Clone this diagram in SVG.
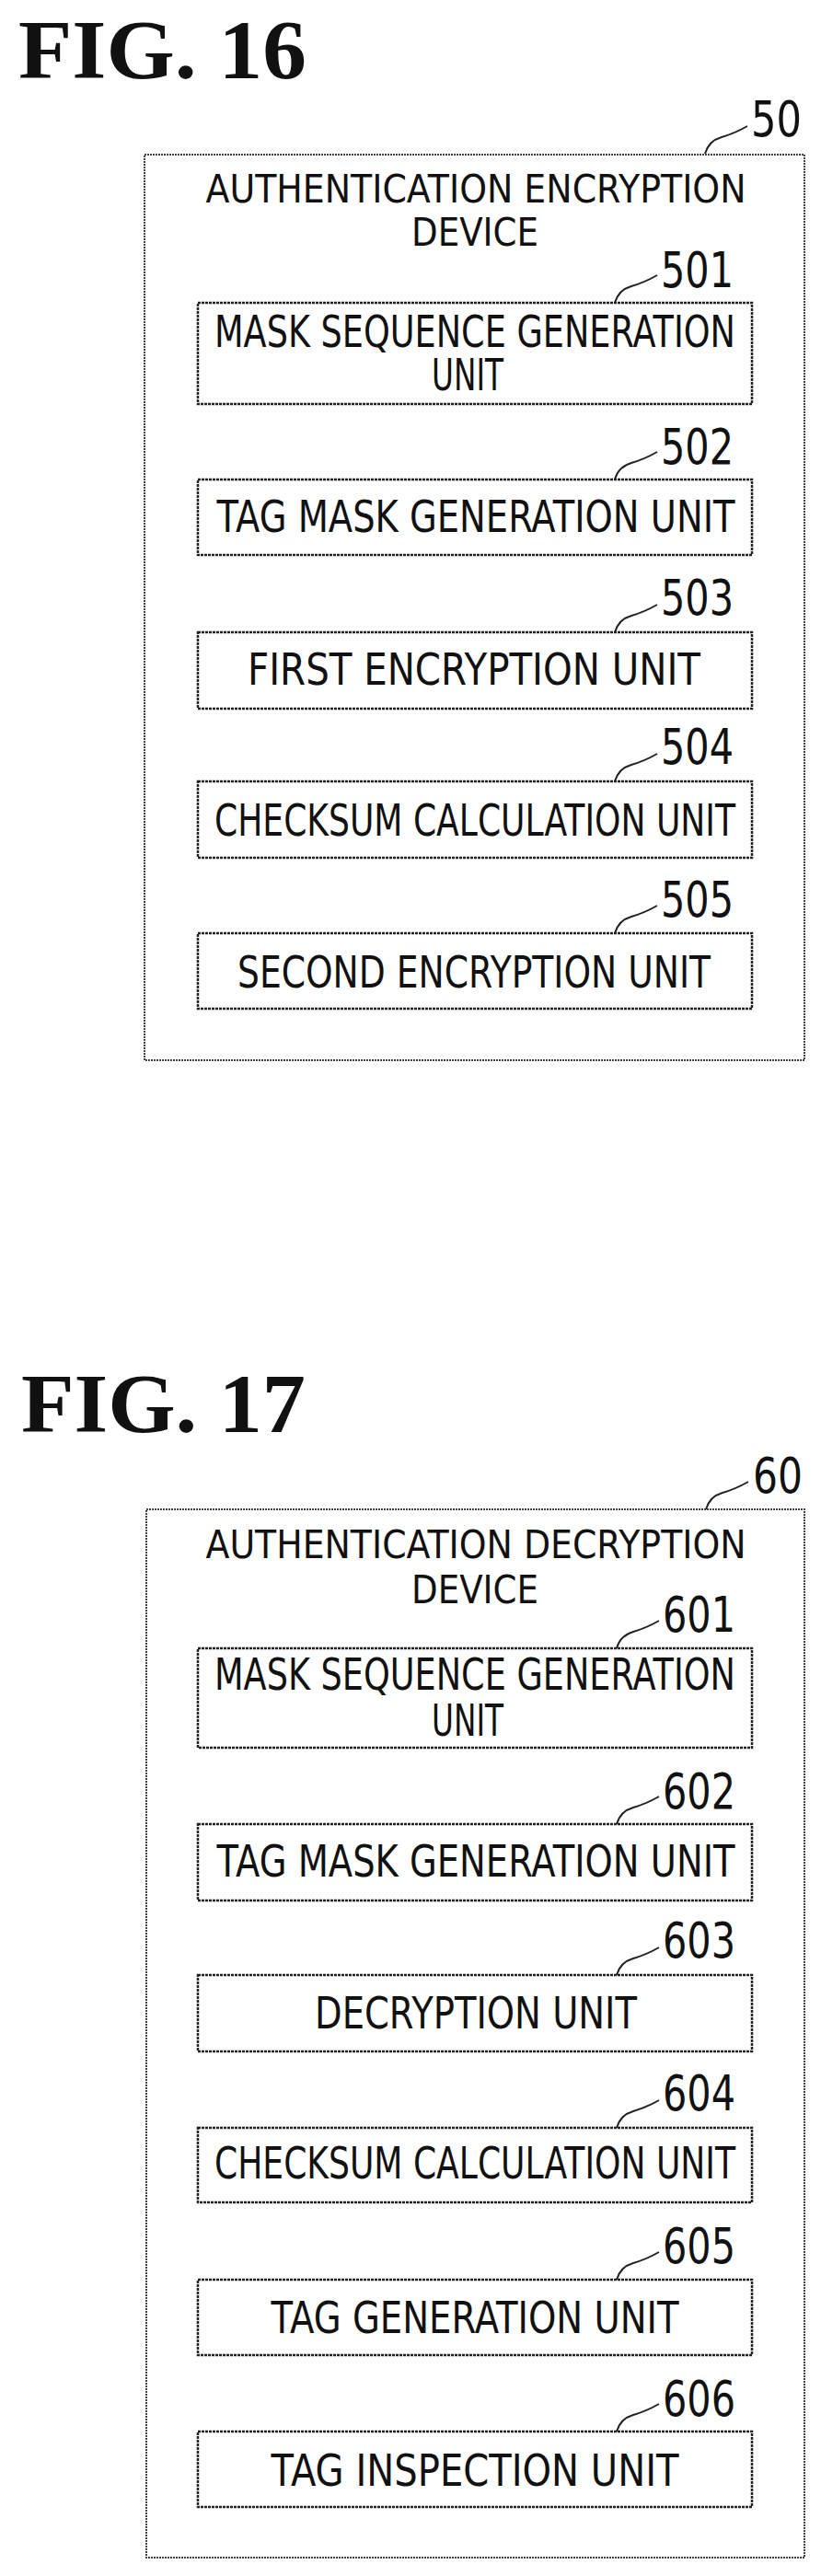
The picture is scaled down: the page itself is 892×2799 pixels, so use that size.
<svg xmlns="http://www.w3.org/2000/svg" width="892" height="2799" viewBox="0 0 892 2799">
<style>
.fig{font-family:"Liberation Serif",serif;font-size:90px;font-weight:bold;fill:#111}
.lb{font-family:"DejaVu Sans",sans-serif;font-size:54px;fill:#111}
.t{font-family:"DejaVu Sans",sans-serif;font-size:48px;fill:#111;text-anchor:middle}
.h{font-family:"DejaVu Sans",sans-serif;font-size:42px;fill:#111;text-anchor:middle}
.box{fill:none;stroke:#222;stroke-width:2.5;stroke-dasharray:3 1}
.obox{fill:none;stroke:#444;stroke-width:2;stroke-dasharray:2 1}
.ld{fill:none;stroke:#222;stroke-width:2}
</style>
<rect width="892" height="2799" fill="#fff"/>
<text class="fig" x="20" y="85" textLength="313" lengthAdjust="spacingAndGlyphs">FIG.  16</text>
<g id="n50"><rect class="obox" x="157" y="168" width="717" height="984"/>
<text class="h" x="517" y="220" textLength="587" lengthAdjust="spacingAndGlyphs">AUTHENTICATION ENCRYPTION</text>
<text class="h" x="516" y="267" textLength="138" lengthAdjust="spacingAndGlyphs">DEVICE</text>
<text class="lb" x="816" y="148" textLength="55" lengthAdjust="spacingAndGlyphs">50</text></g>
<g id="n501"><rect class="box" x="215" y="329" width="602" height="110"/>
<text class="t" x="516" y="377" textLength="566" lengthAdjust="spacingAndGlyphs">MASK SEQUENCE GENERATION</text>
<text class="t" x="508" y="424" textLength="78" lengthAdjust="spacingAndGlyphs">UNIT</text>
<text class="lb" x="718" y="312" textLength="79" lengthAdjust="spacingAndGlyphs">501</text></g>
<g id="n502"><rect class="box" x="215" y="521" width="602" height="82"/>
<text class="t" x="517" y="578" textLength="563" lengthAdjust="spacingAndGlyphs">TAG MASK GENERATION UNIT</text>
<text class="lb" x="718" y="504" textLength="79" lengthAdjust="spacingAndGlyphs">502</text></g>
<g id="n503"><rect class="box" x="215" y="687" width="602" height="83"/>
<text class="t" x="515" y="744" textLength="492" lengthAdjust="spacingAndGlyphs">FIRST ENCRYPTION UNIT</text>
<text class="lb" x="718" y="668" textLength="79" lengthAdjust="spacingAndGlyphs">503</text></g>
<g id="n504"><rect class="box" x="215" y="849" width="602" height="83"/>
<text class="t" x="516" y="908" textLength="566" lengthAdjust="spacingAndGlyphs">CHECKSUM CALCULATION UNIT</text>
<text class="lb" x="718" y="830" textLength="79" lengthAdjust="spacingAndGlyphs">504</text></g>
<g id="n505"><rect class="box" x="215" y="1014" width="602" height="82"/>
<text class="t" x="515" y="1073" textLength="514" lengthAdjust="spacingAndGlyphs">SECOND ENCRYPTION UNIT</text>
<text class="lb" x="718" y="996" textLength="79" lengthAdjust="spacingAndGlyphs">505</text></g>

<text class="fig" x="23" y="1556" textLength="309" lengthAdjust="spacingAndGlyphs">FIG.  17</text>
<g id="n60"><rect class="obox" x="159" y="1640" width="715" height="1139"/>
<text class="h" x="517" y="1693" textLength="587" lengthAdjust="spacingAndGlyphs">AUTHENTICATION DECRYPTION</text>
<text class="h" x="516" y="1742" textLength="138" lengthAdjust="spacingAndGlyphs">DEVICE</text>
<text class="lb" x="818" y="1622" textLength="54" lengthAdjust="spacingAndGlyphs">60</text></g>
<g id="n601"><rect class="box" x="215" y="1791" width="602" height="108"/>
<text class="t" x="516" y="1836" textLength="566" lengthAdjust="spacingAndGlyphs">MASK SEQUENCE GENERATION</text>
<text class="t" x="508" y="1886" textLength="78" lengthAdjust="spacingAndGlyphs">UNIT</text>
<text class="lb" x="720" y="1773" textLength="79" lengthAdjust="spacingAndGlyphs">601</text></g>
<g id="n602"><rect class="box" x="215" y="1982" width="602" height="83"/>
<text class="t" x="517" y="2039" textLength="563" lengthAdjust="spacingAndGlyphs">TAG MASK GENERATION UNIT</text>
<text class="lb" x="720" y="1965" textLength="79" lengthAdjust="spacingAndGlyphs">602</text></g>
<g id="n603"><rect class="box" x="215" y="2146" width="602" height="83"/>
<text class="t" x="517" y="2204" textLength="350" lengthAdjust="spacingAndGlyphs">DECRYPTION UNIT</text>
<text class="lb" x="720" y="2127" textLength="79" lengthAdjust="spacingAndGlyphs">603</text></g>
<g id="n604"><rect class="box" x="215" y="2312" width="602" height="81"/>
<text class="t" x="516" y="2367" textLength="566" lengthAdjust="spacingAndGlyphs">CHECKSUM CALCULATION UNIT</text>
<text class="lb" x="720" y="2293" textLength="79" lengthAdjust="spacingAndGlyphs">604</text></g>
<g id="n605"><rect class="box" x="215" y="2477" width="602" height="82"/>
<text class="t" x="516" y="2535" textLength="443" lengthAdjust="spacingAndGlyphs">TAG GENERATION UNIT</text>
<text class="lb" x="720" y="2459" textLength="79" lengthAdjust="spacingAndGlyphs">605</text></g>
<g id="n606"><rect class="box" x="215" y="2642" width="602" height="82"/>
<text class="t" x="516" y="2701" textLength="443" lengthAdjust="spacingAndGlyphs">TAG INSPECTION UNIT</text>
<text class="lb" x="720" y="2625" textLength="79" lengthAdjust="spacingAndGlyphs">606</text></g>

<g id="connectors">
<path class="ld" d="M766,167 q4,-14 18,-18 t28,-12"/>
<path class="ld" d="M668,329 q4,-14 18,-18 t28,-12"/>
<path class="ld" d="M668,521 q4,-14 18,-18 t28,-12"/>
<path class="ld" d="M668,687 q4,-14 18,-18 t28,-12"/>
<path class="ld" d="M668,849 q4,-14 18,-18 t28,-12"/>
<path class="ld" d="M668,1014 q4,-14 18,-18 t28,-12"/>
<path class="ld" d="M767,1640 q4,-14 18,-18 t28,-12"/>
<path class="ld" d="M670,1791 q4,-14 18,-18 t28,-12"/>
<path class="ld" d="M670,1982 q4,-14 18,-18 t28,-12"/>
<path class="ld" d="M670,2146 q4,-14 18,-18 t28,-12"/>
<path class="ld" d="M670,2312 q4,-14 18,-18 t28,-12"/>
<path class="ld" d="M670,2477 q4,-14 18,-18 t28,-12"/>
<path class="ld" d="M670,2642 q4,-14 18,-18 t28,-12"/>
</g>
</svg>
